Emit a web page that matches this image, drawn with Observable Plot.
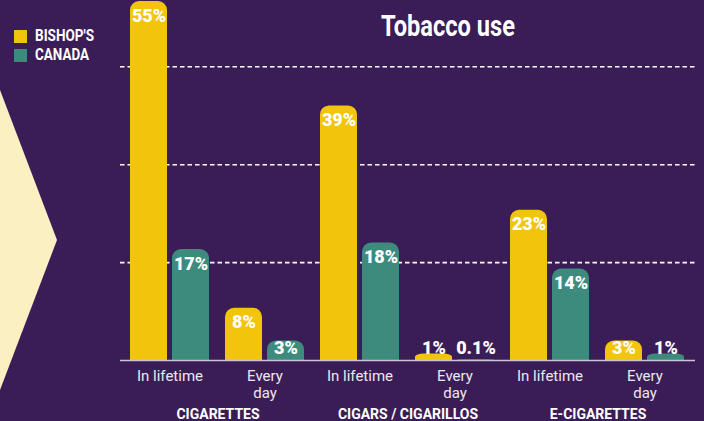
<!DOCTYPE html>
<html>
<head>
<meta charset="utf-8">
<script src="https://cdn.jsdelivr.net/npm/d3@7"></script>
<script src="https://cdn.jsdelivr.net/npm/@observablehq/plot@0.6"></script>
<style>
  html, body { margin: 0; padding: 0; background: #3a1d57; }
  #wrap { position: relative; width: 704px; height: 421px; overflow: hidden; background: #3a1d57; font-family: Roboto, sans-serif; }
  #chev { position: absolute; left: 0; top: 90px; width: 57px; height: 300px; background: #fbf0c1; clip-path: polygon(0 0, 100% 50%, 0 100%); }
  #chart { position: absolute; left: 0; top: 0; }
  #title { position: absolute; top: 12px; left: 381px; color: #fff; font-weight: 700; font-size: 29px; line-height: 29px; white-space: nowrap; transform-origin: left top; }
  .sw { position: absolute; left: 14px; width: 13px; height: 13px; }
  .lt { position: absolute; left: 35px; color: #fff; font-weight: 700; font-size: 16px; line-height: 16px; white-space: nowrap; transform-origin: left top; }
</style>
</head>
<body>
<div id="wrap">
  <div id="chev"></div>
  <div id="chart"></div>
  <div id="title"></div>
  <div id="legend"></div>
</div>
<script>
const titleText = "Tobacco use";
const groups = ["CIGARETTES", "CIGARS / CIGARILLOS", "E-CIGARETTES"];
const measures = ["In lifetime", "Every day"];
const measureLabels = ["In lifetime", "Every\nday"];
const seriesNames = ["BISHOP'S", "CANADA"];
const seriesColors = ["#f2c40c", "#3d8b7d"];
const bishopsValues = [55, 8, 39, 1, 23, 3];
const canadaValues = [17, 3, 18, 0.1, 14, 1];
const gridTicks = [15, 30, 45];

const keys = groups.flatMap(g => measures.map(m => g + "|" + m));
const bishopsRows = keys.map((k, i) => ({key: k, series: seriesNames[0], value: bishopsValues[i]}));
const canadaRows = keys.map((k, i) => ({key: k, series: seriesNames[1], value: canadaValues[i]}));
const fmt = v => v + "%";
const labelY = d => Math.max(d.value - 2.2, 1.85);

const plot = Plot.plot({
  width: 704,
  height: 421,
  marginLeft: 120,
  marginRight: 9,
  marginTop: 1,
  marginBottom: 61,
  style: { background: "transparent", fontFamily: "Roboto, sans-serif", overflow: "visible" },
  x: { domain: keys, paddingInner: 0.167, paddingOuter: 0.08, axis: null },
  y: { domain: [0, 55], axis: null },
  marks: [
    Plot.ruleY(gridTicks, { stroke: "#ffffff", strokeWidth: 1.6, strokeDasharray: "4.5,3" }),
    Plot.barY(bishopsRows, { x: "key", y: "value", fill: seriesColors[0], insetRight: 42, rx: 9 }),
    Plot.barY(bishopsRows, { x: "key", y: d => d.value / 2, fill: seriesColors[0], insetRight: 42 }),
    Plot.barY(canadaRows, { x: "key", y: "value", fill: seriesColors[1], insetLeft: 42, rx: 9 }),
    Plot.barY(canadaRows, { x: "key", y: d => d.value / 2, fill: seriesColors[1], insetLeft: 42 }),
    Plot.ruleY([0], { stroke: "#cbc3d6", strokeWidth: 1.5 }),
    Plot.text(bishopsRows, { x: "key", y: labelY, text: d => fmt(d.value), dx: -21, fill: "#ffffff", fontSize: 18, fontWeight: 900 }),
    Plot.text(canadaRows, { x: "key", y: labelY, text: d => fmt(d.value), dx: 21, fill: "#ffffff", fontSize: 18, fontWeight: 900 }),
    Plot.text(keys, { x: d => d, frameAnchor: "bottom", dy: 8, lineAnchor: "top", lineHeight: 1.15,
      text: d => measureLabels[measures.indexOf(d.split("|")[1])], fill: "#ece7f1", fontSize: 15 }),
    Plot.text(groups, { x: g => g + "|" + measures[0], frameAnchor: "bottom", dx: 48, dy: 49, lineAnchor: "top",
      text: d => d, fill: "#ffffff", fontSize: 14, fontWeight: 700 })
  ]
});
document.getElementById("chart").appendChild(plot);

function fit(el, w) {
  const r = el.getBoundingClientRect().width;
  if (r > 0) el.style.transform = `scaleX(${w / r})`;
}
const title = document.getElementById("title");
title.textContent = titleText;
fit(title, 134);

const legend = document.getElementById("legend");
const legTops = [30, 49];
const legWidths = [59, 54];
seriesNames.forEach((name, i) => {
  const sw = document.createElement("div");
  sw.className = "sw";
  sw.style.top = legTops[i] + "px";
  sw.style.background = seriesColors[i];
  legend.appendChild(sw);
  const t = document.createElement("div");
  t.className = "lt";
  t.style.top = (legTops[i] - 2) + "px";
  t.textContent = name;
  legend.appendChild(t);
  fit(t, legWidths[i]);
});
</script>
</body>
</html>
